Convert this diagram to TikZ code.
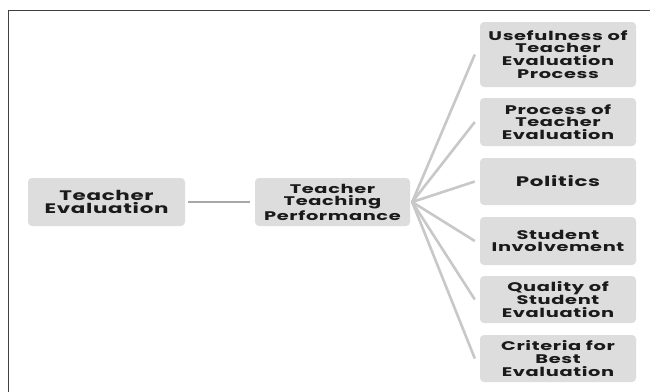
\documentclass[tikz,border=0pt]{standalone}
\usepackage{fontspec}
\newfontfamily\boxfont{Poppins}[FakeStretch=1.55, LetterSpace=5, BoldFont={* Bold}]
\definecolor{boxfill}{HTML}{DDDDDD}
\definecolor{linkdark}{HTML}{A8A8A8}
\definecolor{linklight}{HTML}{C8C8C8}
\definecolor{framecol}{HTML}{404040}
\definecolor{txt}{HTML}{1A1A1A}
\begin{document}
\begin{tikzpicture}[x=1pt,y=-1pt,
  box/.style={fill=boxfill, rounded corners=4pt, inner sep=0pt, align=center,
    text=txt, font=\boxfont\bfseries\fontsize{12.5}{12.8}\selectfont},
  bigbox/.style={box, font=\boxfont\bfseries\fontsize{13.8}{13.6}\selectfont},
  link/.style={linklight, line width=2.6pt},
  mainlink/.style={linkdark, line width=2.8pt}]
\useasboundingbox (0,0) rectangle (650,391);
\fill[white] (0,0) rectangle (650,391);
% frame
\draw[framecol, line width=1.5pt] (8.5,395) -- (8.5,10.5) -- (655,10.5);
% left nodes
\node[bigbox, minimum width=157pt, minimum height=48pt] (te) at (106.5,202) {Teacher\\Evaluation};
\node[box, minimum width=155pt, minimum height=48pt] (ttp) at (332.5,202) {Teacher\\Teaching\\Performance};
% right column
\node[box, minimum width=156pt, minimum height=65pt] (b1) at (558,54.5) {Usefulness of\\Teacher\\Evaluation\\Process};
\node[box, minimum width=156pt, minimum height=48pt] (b2) at (558,122) {Process of\\Teacher\\Evaluation};
\node[bigbox, minimum width=156pt, minimum height=47pt] (b3) at (558,181.5) {Politics};
\node[box, minimum width=156pt, minimum height=48pt] (b4) at (558,241) {Student\\Involvement};
\node[box, minimum width=156pt, minimum height=47pt] (b5) at (558,299.5) {Quality of\\Student\\Evaluation};
\node[box, minimum width=156pt, minimum height=47pt] (b6) at (558,358.5) {Criteria for\\Best\\Evaluation};
% connectors
\draw[mainlink, shorten <=3pt, shorten >=5pt] (te.east) -- (ttp.west);
\coordinate (s) at ([xshift=2pt]ttp.east);
\foreach \b in {b1,b2,b3,b4,b5,b6}
  \draw[link] (s) -- ([xshift=-5pt]\b.west);
\end{tikzpicture}
\end{document}
